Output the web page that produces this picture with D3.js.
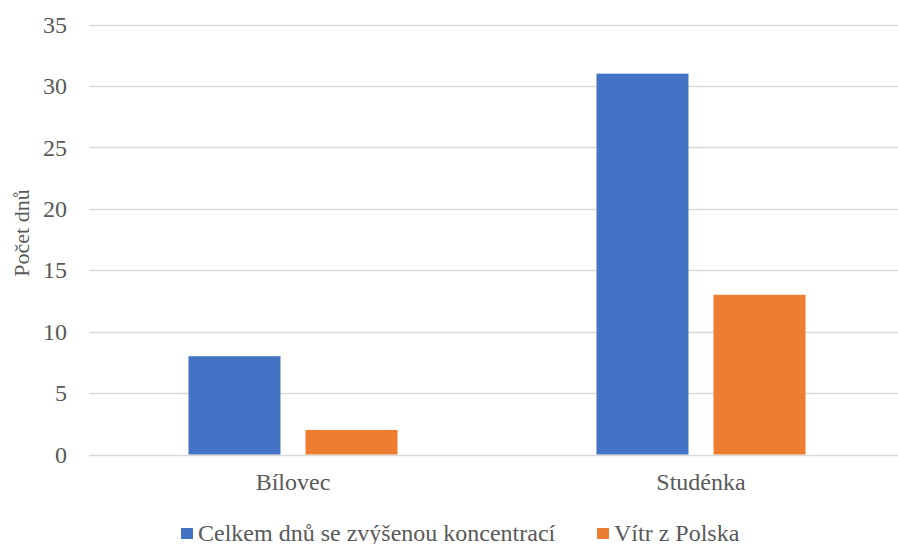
<!DOCTYPE html>
<html>
<head>
<meta charset="utf-8">
<script src="https://cdn.jsdelivr.net/npm/d3@7"></script>
</head>
<body style="margin:0">
<svg id="chart" width="898" height="544" style="display:block"></svg>
<script>
// Data
const categories = ["Bílovec", "Studénka"];
const seriesNames = ["Celkem dnů se zvýšenou koncentrací", "Vítr z Polska"];
const totalDays = [8, 31];
const windFromPoland = [2, 13];
const yTicks = [0, 5, 10, 15, 20, 25, 30, 35];
const colors = ["#4472C4", "#ED7D31"];

const FONT = "'Liberation Serif'";
const TEXT_COLOR = "#595959";
const svg = d3.select("#chart");
const margin = { left: 89, top: 24.5, right: -7, bottom: 89.5 };
const W = 898, H = 544;
const plotRight = W - margin.right;
const plotBottom = H - margin.bottom;

const x = d3.scaleBand().domain(categories).range([margin.left, plotRight]).paddingInner(0).paddingOuter(0);
const x1 = d3.scaleBand().domain(seriesNames).range([0, x.bandwidth()]).paddingInner(0.2137).paddingOuter(0.85);
const y = d3.scaleLinear().domain([0, 35]).range([plotBottom, margin.top]);

function styleText(sel, size) {
  sel.style("font-family", FONT).attr("font-size", size).attr("fill", TEXT_COLOR);
}

// Gridlines
svg.append("g")
  .selectAll("line")
  .data(yTicks)
  .join("line")
  .attr("x1", margin.left)
  .attr("x2", plotRight)
  .attr("y1", d => Math.round(y(d)) + 0.5)
  .attr("y2", d => Math.round(y(d)) + 0.5)
  .attr("stroke", "#d9d9d9")
  .attr("stroke-width", 1.5);

// Y axis labels
const yAxis = d3.axisLeft(y).tickValues(yTicks).tickSize(0).tickPadding(0);
const yg = svg.append("g").attr("transform", `translate(${margin.left - 22},0)`).call(yAxis);
yg.select(".domain").remove();
yg.attr("font-family", null).attr("font-size", null);
yg.selectAll("text").call(styleText, 24);

// Bars
const rows = categories.map((c, i) => ({ cat: c, values: [totalDays[i], windFromPoland[i]] }));
const groups = svg.append("g").selectAll("g")
  .data(rows)
  .join("g")
  .attr("transform", d => `translate(${x(d.cat)},0)`);
groups.selectAll("rect")
  .data(d => d.values.map((v, j) => ({ name: seriesNames[j], v, j })))
  .join("rect")
  .attr("x", d => x1(d.name))
  .attr("width", x1.bandwidth())
  .attr("y", d => y(d.v))
  .attr("height", d => y(0) - y(d.v))
  .attr("fill", d => colors[d.j]);

// X axis labels
const xAxis = d3.axisBottom(x).tickSize(0).tickPadding(0);
const xg = svg.append("g").attr("transform", `translate(0,${plotBottom + 18})`).call(xAxis);
xg.select(".domain").remove();
xg.attr("font-family", null).attr("font-size", null);
xg.selectAll("text").attr("dy", "0.71em").call(styleText, 24);

// Y axis title
svg.append("text")
  .attr("transform", "translate(29,233) rotate(-90)")
  .attr("text-anchor", "middle")
  .text("Počet dnů")
  .call(styleText, 22);

// Legend
const legend = svg.append("g");
const legendItems = [
  { name: seriesNames[0], color: colors[0], x: 181 },
  { name: seriesNames[1], color: colors[1], x: 597 }
];
legendItems.forEach(it => {
  legend.append("rect").attr("x", it.x).attr("y", 528).attr("width", 12).attr("height", 11).attr("fill", it.color);
  legend.append("text").attr("x", it.x + 17).attr("y", 541).text(it.name).call(styleText, 24);
});
</script>
</body>
</html>
